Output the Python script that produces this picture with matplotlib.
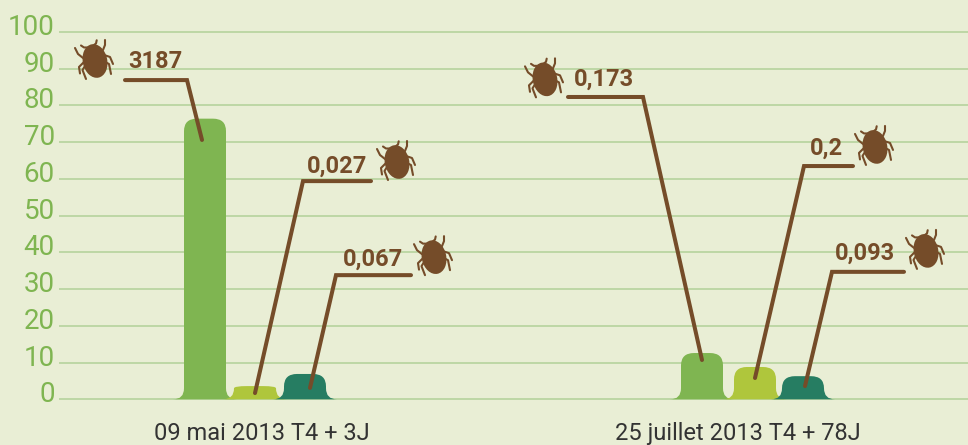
import matplotlib
matplotlib.use("Agg")
import matplotlib.pyplot as plt
from matplotlib.lines import Line2D
from matplotlib.patches import Ellipse, PathPatch
from matplotlib.path import Path
from matplotlib.transforms import Affine2D, ScaledTranslation

W, H = 968, 445
BG = "#e9eed5"
GRID = "#bdd7a5"
TICK_GREEN = "#7fb551"
BROWN = "#754c29"
DARK = "#333333"
COLORS = ["#7fb551", "#afc63c", "#267d62"]

yticks = [0, 10, 20, 30, 40, 50, 60, 70, 80, 90, 100]
dates = ["09 mai 2013 T4 + 3J", "25 juillet 2013 T4 + 78J"]
date_pos = [262, 738]

bar_x = [205, 255, 305, 702, 755, 803]
bar_values = [76.4, 3.6, 6.9, 12.6, 8.8, 6.3]
bar_colors = [0, 1, 2, 0, 1, 2]

labels = ["3187", "0,027", "0,067", "0,173", "0,2", "0,093"]
label_x = [155, 337, 373, 604, 826, 865]
label_y = [92.0, 63.4, 38.2, 87.0, 68.2, 39.8]

# leader lines: free end, elbow, end in the bar
lead_x = [(125, 187, 202), (371, 303, 255), (411, 336, 310),
          (568, 643, 702), (853, 804, 755), (904, 832, 805)]
lead_y = [(86.9, 86.9, 70.6), (59.4, 59.4, 1.7), (33.8, 33.8, 3.1),
          (82.3, 82.3, 10.7), (63.5, 63.5, 5.8), (34.7, 34.7, 3.6)]

bug_x = [95, 397, 434, 545, 875, 926]
bug_y = [92.1, 64.6, 38.7, 87.1, 68.7, 40.4]

# bug legs, pixels from the body centre
bug_legs = [
    [(1.7, 20.7), (1, 17.5), (-1, 16)],
    [(-14, 15.5), (-11, 13.5), (-7, 13.5)],
    [(10, 21), (10, 16), (8, 11)],
    [(-20, 13), (-17, 7), (-12, 3)],
    [(-15, -12.5), (-16, -6), (-11, -1)],
    [(-9, -18), (-12.5, -9), (-10, -5)],
    [(18, -3), (15, 4), (9, 6)],
    [(16, -13), (14, -3), (10, -1)],
]


def bar_shape(x, value, width=42, foot=11):
    # rounded top, flared foot
    foot_h = 3.0
    ry = min(3.4, max(value - foot_h, 0.6))
    rx = 13
    left, right = x - width / 2, x + width / 2
    verts = [
        (left - foot, 0),
        (left, 0), (left, foot_h),
        (left, value - ry),
        (left, value), (left + rx, value),
        (right - rx, value),
        (right, value), (right, value - ry),
        (right, foot_h),
        (right, 0), (right + foot, 0),
        (left - foot, 0),
    ]
    codes = [Path.MOVETO, Path.CURVE3, Path.CURVE3, Path.LINETO, Path.CURVE3, Path.CURVE3,
             Path.LINETO, Path.CURVE3, Path.CURVE3, Path.LINETO, Path.CURVE3, Path.CURVE3,
             Path.CLOSEPOLY]
    return Path(verts, codes)


def draw_bug(ax, x, y):
    cx, cy = ax.transData.transform((x, y))
    tr = Affine2D().translate(cx, cy)
    ax.add_patch(Ellipse((0, 0), 24.5, 34, angle=12, color=BROWN, lw=0, transform=tr, zorder=5))
    for leg in bug_legs:
        ax.add_line(Line2D([p[0] for p in leg], [p[1] for p in leg], color=BROWN, lw=1.5,
                           solid_capstyle="round", transform=tr, zorder=5))


plt.rcParams["font.family"] = ["Roboto", "DejaVu Sans"]

fig = plt.figure(figsize=(W / 100, H / 100), dpi=100, facecolor=BG)
ax = fig.add_axes([59 / W, 30 / H, 909 / W, 415 / H], facecolor=BG)
ax.set_xlim(59, 968)
ax.set_ylim(-4.27, 108.7)
for side in ax.spines.values():
    side.set_visible(False)

ax.set_yticks(yticks, [str(v) for v in yticks])
ax.tick_params(axis="y", length=0, pad=3, labelsize=20, labelcolor=TICK_GREEN)
# the numbers sit just above their grid lines
lift = ScaledTranslation(0, 7.5 / 100, fig.dpi_scale_trans)
for lab in ax.get_yticklabels():
    lab.set_transform(lab.get_transform() + lift)
ax.set_xticks(date_pos, dates)
ax.tick_params(axis="x", length=0, pad=5, labelsize=17, labelcolor=DARK)
ax.grid(axis="y", color=GRID, lw=1.4, zorder=1)
ax.set_axisbelow(True)

for x, value, c in zip(bar_x, bar_values, bar_colors):
    ax.add_patch(PathPatch(bar_shape(x, value), facecolor=COLORS[c], lw=0, zorder=2))

for xs, ys in zip(lead_x, lead_y):
    ax.plot(xs, ys, color=BROWN, lw=2.9, solid_capstyle="round", solid_joinstyle="miter", zorder=4)

for s, x, y in zip(labels, label_x, label_y):
    ax.text(x, y, s, color=BROWN, fontsize=17, fontweight="bold", ha="center", va="center", zorder=4)

for x, y in zip(bug_x, bug_y):
    draw_bug(ax, x, y)

fig.savefig("out.png", dpi=100, facecolor=BG)
plt.close(fig)
